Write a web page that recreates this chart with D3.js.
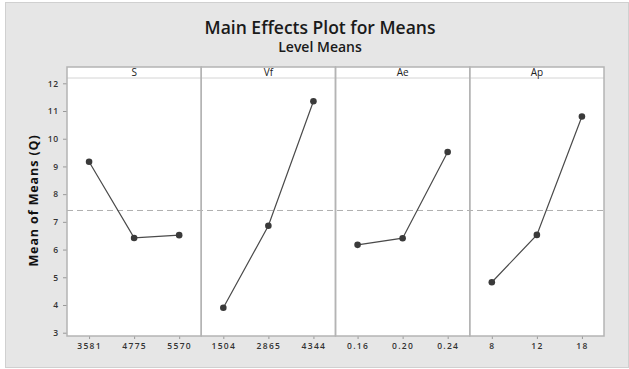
<!DOCTYPE html>
<html>
<head>
<meta charset="utf-8">
<script src="https://cdn.jsdelivr.net/npm/d3@7"></script>
<style>
  body { margin: 0; background: #fff; }
  text { font-family: "Open Sans", "DejaVu Sans", sans-serif; }
</style>
</head>
<body>
<div id="chart"></div>
<script>
let factors = ["S", "Vf", "Ae", "Ap"]
let levelsS = ["3581", "4775", "5570"]
let meansS = [9.17, 6.42, 6.52]
let levelsVf = ["1504", "2865", "4344"]
let meansVf = [3.9, 6.86, 11.35]
let levelsAe = ["0.16", "0.20", "0.24"]
let meansAe = [6.17, 6.41, 9.52]
let levelsAp = ["8", "12", "18"]
let meansAp = [4.82, 6.53, 10.8]
let grandMean = 7.41
let yTicks = [3, 4, 5, 6, 7, 8, 9, 10, 11, 12]

function drawChart() {
    let width = 629,
        height = 369
    let left = 67, right = 604, top = 67, stripH = 11, bottom = 336
    let svg = d3.select("#chart").append("svg")
        .attr("width", width)
        .attr("height", height)

    svg.append("rect")
        .attr("x", 5.5).attr("y", 2.5)
        .attr("width", width - 6).attr("height", 365)
        .attr("fill", "#e6e6e6")
        .attr("stroke", "#d0d0d0")

    svg.append("text")
        .attr("x", 320).attr("y", 33.5)
        .attr("text-anchor", "middle")
        .attr("font-size", 17.5)
        .attr("font-weight", "600")
        .attr("fill", "#1a1a1a")
        .text("Main Effects Plot for Means")
    svg.append("text")
        .attr("x", 320).attr("y", 52)
        .attr("text-anchor", "middle")
        .attr("font-size", 14)
        .attr("font-weight", "600")
        .attr("fill", "#1a1a1a")
        .text("Level Means")

    let yScale = d3.scaleLinear()
        .domain([3, 12])
        .range([332.7, 83.3])

    let panels = [
        { name: factors[0], levels: levelsS, means: meansS },
        { name: factors[1], levels: levelsVf, means: meansVf },
        { name: factors[2], levels: levelsAe, means: meansAe },
        { name: factors[3], levels: levelsAp, means: meansAp }
    ]
    let panelScale = d3.scaleBand()
        .domain(factors)
        .range([left, right])
        .paddingInner(0)

    svg.append("rect")
        .attr("x", left).attr("y", top)
        .attr("width", right - left).attr("height", bottom - top)
        .attr("fill", "#fff")

    // grand mean reference line
    svg.append("line")
        .attr("x1", left).attr("x2", right)
        .attr("y1", yScale(grandMean)).attr("y2", yScale(grandMean))
        .attr("stroke", "#b0b0b0")
        .attr("stroke-width", 1)
        .attr("stroke-dasharray", "6,4")

    svg.append("line")
        .attr("x1", left).attr("x2", right)
        .attr("y1", top + stripH).attr("y2", top + stripH)
        .attr("stroke", "#d4d4d4")
        .attr("stroke-width", 1)

    let yAxis = d3.axisLeft(yScale).tickValues(yTicks).tickSize(4).tickPadding(4)
    let gy = svg.append("g")
        .attr("transform", "translate(" + left + ",0)")
        .call(yAxis)
    gy.select(".domain").remove()
    gy.selectAll("line").attr("stroke", "#999")
    gy.selectAll("text").attr("font-size", 8.5).attr("fill", "#333")
        .attr("font-weight", "600")
        .attr("letter-spacing", 0.8)

    svg.append("text")
        .attr("transform", "translate(38," + 200.5 + ") rotate(-90)")
        .attr("text-anchor", "middle")
        .attr("font-family", "Liberation Sans, Arial, sans-serif")
        .attr("font-weight", "bold")
        .attr("font-size", 12.5)
        .attr("letter-spacing", 0.9)
        .attr("fill", "#111")
        .text("Mean of Means (Q)")

    panels.forEach(function(p) {
        let x0 = panelScale(p.name)
        let xScale = d3.scalePoint()
            .domain(p.levels)
            .range([x0, x0 + panelScale.bandwidth()])
            .padding(0.49)

        svg.append("text")
            .attr("x", x0 + panelScale.bandwidth() / 2)
            .attr("y", top + 9)
            .attr("text-anchor", "middle")
            .attr("font-family", "Liberation Sans, Arial, sans-serif")
            .attr("font-size", 10)
            .attr("fill", "#222")
            .text(p.name)

        let xAxis = d3.axisBottom(xScale).tickSize(3).tickPadding(4)
        let gx = svg.append("g")
            .attr("transform", "translate(0," + bottom + ")")
            .call(xAxis)
        gx.select(".domain").remove()
        gx.selectAll("line").attr("stroke", "#999")
        gx.selectAll("text").attr("font-size", 8.5).attr("fill", "#333")
            .attr("font-weight", "600")
            .attr("letter-spacing", 1.3)

        let pts = p.levels.map(function(d, i) { return { level: d, mean: p.means[i] } })
        let line = d3.line()
            .x(function(d) { return xScale(d.level) })
            .y(function(d) { return yScale(d.mean) })
        svg.append("path")
            .datum(pts)
            .attr("d", line)
            .attr("fill", "none")
            .attr("stroke", "#4a4a4a")
            .attr("stroke-width", 1.2)
        svg.selectAll(".pt-" + p.name)
            .data(pts)
            .enter()
            .append("circle")
            .attr("class", "pt-" + p.name)
            .attr("cx", function(d) { return xScale(d.level) })
            .attr("cy", function(d) { return yScale(d.mean) })
            .attr("r", 3.3)
            .attr("fill", "#3a3a3a")
    })

    // panel borders
    svg.selectAll(".panel")
        .data(factors)
        .enter()
        .append("rect")
        .attr("class", "panel")
        .attr("x", function(d) { return panelScale(d) })
        .attr("y", top)
        .attr("width", panelScale.bandwidth())
        .attr("height", bottom - top)
        .attr("fill", "none")
        .attr("stroke", "#b4b4b4")
        .attr("stroke-width", 1.5)
}

drawChart()
</script>
</body>
</html>
